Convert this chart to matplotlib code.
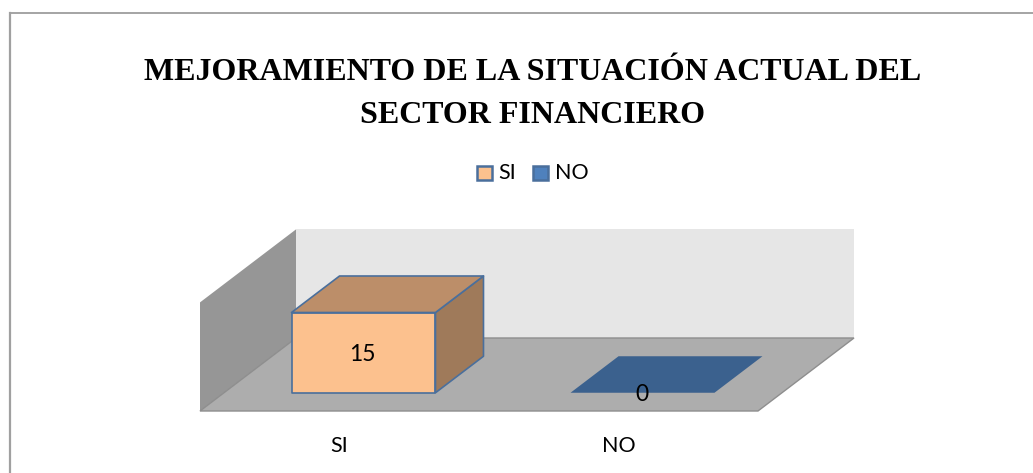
import matplotlib
matplotlib.use("Agg")
import matplotlib.pyplot as plt
from matplotlib.patches import Polygon, Rectangle

categories = ["SI", "NO"]
values = [15, 0]
title = "MEJORAMIENTO DE LA SITUACIÓN ACTUAL DEL\nSECTOR FINANCIERO"
axis_top = 20.3

front_colors = ["#FCC18E", "#4F81BD"]
top_colors = ["#BC8E69", "#3B618E"]
side_colors = ["#9F7A5A", "#2F4F75"]
edge_color = "#4A6F9C"

W, H = 1033, 473

# oblique projection of the 3d chart box onto the image
x0, floor_y = 200, 411
x_unit = 279
y_unit = 5.35
depth_x, depth_y = 96, 73


def proj(x, v, d):
    return (x0 + (x + 0.5) * x_unit + d * depth_x,
            floor_y - v * y_unit - d * depth_y)


fig = plt.figure(figsize=(W / 100, H / 100), dpi=100)
ax = fig.add_axes([0, 0, 1, 1])
ax.set_xlim(0, W)
ax.set_ylim(H, 0)
ax.set_axis_off()

# outer frame, only top and left are inside the crop
ax.plot([9.5, W], [13.5, 13.5], color="#8C8C8C", linewidth=1.1)
ax.plot([9.5, 9.5], [13.5, H], color="#A0A0A0", linewidth=1.6)

# walls and floor
xl, xr = -0.5, 1.5
ax.add_patch(Polygon([proj(xl, 0, 1), proj(xr, 0, 1), proj(xr, axis_top, 1), proj(xl, axis_top, 1)],
                     facecolor="#E6E6E6", edgecolor="none"))
ax.add_patch(Polygon([proj(xl, 0, 0), proj(xl, 0, 1), proj(xl, axis_top, 1), proj(xl, axis_top, 0)],
                     facecolor="#969696", edgecolor="none"))
ax.add_patch(Polygon([proj(xl, 0, 0), proj(xr, 0, 0), proj(xr, 0, 1), proj(xl, 0, 1)],
                     facecolor="#ADADAD", edgecolor="#8E8E8E", linewidth=1))

# bars
bw = 0.258
d1, d2 = 0.25, 0.75
for i, v in enumerate(values):
    lw = 1.2 if v > 0 else 0
    ec = edge_color if v > 0 else "none"
    if v > 0:
        ax.add_patch(Polygon([proj(i - bw, 0, d1), proj(i + bw, 0, d1), proj(i + bw, v, d1), proj(i - bw, v, d1)],
                             facecolor=front_colors[i], edgecolor=ec, linewidth=lw, joinstyle="round"))
        ax.add_patch(Polygon([proj(i + bw, 0, d1), proj(i + bw, 0, d2), proj(i + bw, v, d2), proj(i + bw, v, d1)],
                             facecolor=side_colors[i], edgecolor=ec, linewidth=lw, joinstyle="round"))
    ax.add_patch(Polygon([proj(i - bw, v, d1), proj(i + bw, v, d1), proj(i + bw, v, d2), proj(i - bw, v, d2)],
                         facecolor=top_colors[i], edgecolor=ec, linewidth=lw, joinstyle="round"))
    lx, ly = proj(i, v / 2, d1)
    ax.text(lx - 1, ly + 2, str(v), ha="center", va="center", fontsize=16.5, family="Lato", color="black")
    tx, _ = proj(i, 0, 0)
    ax.text(tx, 446, categories[i], ha="center", va="center", fontsize=15.5, family="Lato", color="black")

ax.text(533, 94, title, ha="center", va="center", fontsize=23, family="Liberation Serif",
        fontweight="bold", color="black", linespacing=1.6)

# legend
for name, fc, bx, tx in zip(categories, front_colors, [477, 533], [498, 555]):
    ax.add_patch(Rectangle((bx, 165.5), 14.5, 14.5, facecolor=fc, edgecolor=edge_color, linewidth=1.8))
    ax.text(tx, 172.5, name, ha="left", va="center", fontsize=15.5, family="Lato", color="black")

fig.savefig("out.png", dpi=100)
